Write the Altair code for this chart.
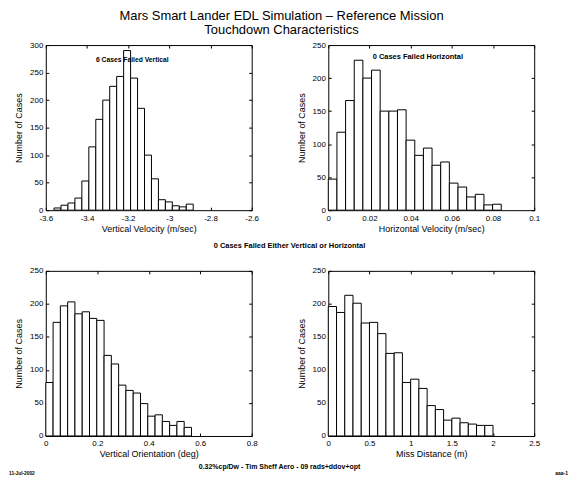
import altair as alt
import pandas as pd

FONT = "Liberation Sans"

# ---------------- data ----------------
title_lines = ["Mars Smart Lander EDL Simulation \u2013 Reference Mission", "Touchdown Characteristics"]

# Vertical velocity (m/sec)
vv_counts = [4, 9, 13, 22, 53, 115, 165, 200, 225, 243, 290, 240, 185, 100, 57, 19, 15, 8, 6, 11]
vv_start = -3.56
vv_binw = 0.0338
vv_xdomain = [-3.6, -2.6]
vv_xticks = [-3.6, -3.4, -3.2, -3.0, -2.8, -2.6]
vv_ydomain = [0, 300]
vv_yticks = [0, 50, 100, 150, 200, 250, 300]

# Horizontal velocity (m/sec)
hv_counts = [47, 118, 166, 227, 200, 212, 150, 150, 152, 106, 83, 94, 68, 73, 41, 35, 20, 24, 8, 9]
hv_start = 0.0
hv_binw = 0.0042
hv_xdomain = [0, 0.1]
hv_xticks = [0, 0.02, 0.04, 0.06, 0.08, 0.1]

# Vertical orientation (deg)
vo_counts = [81, 172, 197, 203, 185, 188, 178, 175, 122, 109, 77, 69, 65, 49, 30, 32, 22, 16, 22, 13]
vo_start = 0.0
vo_binw = 0.0283
vo_xdomain = [0, 0.8]
vo_xticks = [0, 0.2, 0.4, 0.6, 0.8]

# Miss distance (m)
md_counts = [196, 187, 213, 201, 171, 172, 155, 125, 126, 81, 86, 72, 46, 40, 24, 27, 20, 18, 16, 16]
md_start = 0.0
md_binw = 0.1
md_xdomain = [0, 2.5]
md_xticks = [0, 0.5, 1, 1.5, 2, 2.5]

y250_domain = [0, 250]
y250_ticks = [0, 50, 100, 150, 200, 250]

x_titles = ["Vertical Velocity (m/sec)", "Horizontal Velocity (m/sec)",
            "Vertical Orientation (deg)", "Miss Distance (m)"]
y_title = "Number of Cases"

note_vertical = "6 Cases Failed Vertical"
note_horizontal = "0 Cases Failed Horizontal"
note_either = "0 Cases Failed Either Vertical or Horizontal"
footer_date = "11-Jul-2002"
footer_center = "0.32%cp/Dw - Tim Sheff Aero - 09 rads+ddov+opt"
footer_right = "aaa-1"

# ---------------- helpers ----------------
W, H = 207, 166
LAB = "replace(format(datum.value, '~g'), '\u2212', '-')"


def hist_df(counts, start, binw):
    lo = [start + i * binw for i in range(len(counts))]
    return pd.DataFrame({"lo": lo, "hi": [v + binw for v in lo], "n": counts})


def note_layer(text, x, y, align="center", size=6, weight="bold"):
    return alt.Chart(pd.DataFrame({"t": [text]})).mark_text(
        font=FONT, fontSize=size, fontWeight=weight, align=align, baseline="middle", color="black"
    ).encode(text="t:N", x=alt.value(x), y=alt.value(y))


def panel(df, xdom, xticks, ydom, yticks, xtitle, notes):
    xs = alt.Scale(domain=xdom, nice=False, zero=False)
    ys = alt.Scale(domain=ydom, nice=False)
    common = dict(offset=-3, tickSize=3, domain=False, grid=False, labelOverlap=False,
                  labelFlush=False, tickColor="black")
    bars = alt.Chart(df).mark_rect(fill="white", stroke="black", strokeWidth=1).encode(
        x=alt.X("lo:Q", scale=xs, axis=alt.Axis(values=xticks, title=xtitle, labelExpr=LAB,
                                               labelPadding=4, titlePadding=2, **common)),
        x2="hi:Q",
        y=alt.Y("n:Q", scale=ys, axis=alt.Axis(values=yticks, title=y_title, labelExpr=LAB,
                                              labelPadding=3, titlePadding=6, **common)),
        y2=alt.datum(0),
    )
    mirror = alt.Chart(df).mark_point(opacity=0).encode(
        x=alt.X("lo:Q", scale=xs, axis=alt.Axis(orient="top", values=xticks, labels=False,
                                               title=None, **common)),
        y=alt.Y("n:Q", scale=ys, axis=alt.Axis(orient="right", values=yticks, labels=False,
                                              title=None, **common)),
    )
    layers = [bars, mirror] + [note_layer(*n) for n in notes]
    return alt.layer(*layers).resolve_axis(x="independent", y="independent").properties(width=W, height=H)


tl = panel(hist_df(vv_counts, vv_start, vv_binw), vv_xdomain, vv_xticks, vv_ydomain, vv_yticks,
           x_titles[0], [(note_vertical, 87, 15, "center", 6.8)])
tr = panel(hist_df(hv_counts, hv_start, hv_binw), hv_xdomain, hv_xticks, y250_domain, y250_ticks,
           x_titles[1], [(note_horizontal, 90, 12, "center", 7.5)])
bl = panel(hist_df(vo_counts, vo_start, vo_binw), vo_xdomain, vo_xticks, y250_domain, y250_ticks,
           x_titles[2], [(note_either, 245, -25, "center", 7.5),
                         (footer_center, 235, 197, "center", 7),
                         (footer_date, -37, 204, "left", 4.8)])
br = panel(hist_df(md_counts, md_start, md_binw), md_xdomain, md_xticks, y250_domain, y250_ticks,
           x_titles[3], [(footer_right, 241, 203, "right", 5)])

chart = alt.concat(
    tl, tr, bl, br, columns=2, spacing={"row": 61, "column": 77}, bounds="flush"
).properties(
    title=alt.TitleParams(text=title_lines, font=FONT, fontSize=13, fontWeight="normal",
                          anchor="middle", offset=4, lineHeight=14, dx=-7, color="black"),
    padding={"left": 0, "top": 0, "right": 2, "bottom": 0},
).configure_view(
    stroke="black", strokeWidth=1
).configure_axis(
    labelFont=FONT, titleFont=FONT, labelFontSize=8, titleFontSize=9,
    titleFontWeight="normal", labelColor="black", titleColor="black"
)

chart.save("out.html", embed_options={"renderer": "svg", "actions": False})
